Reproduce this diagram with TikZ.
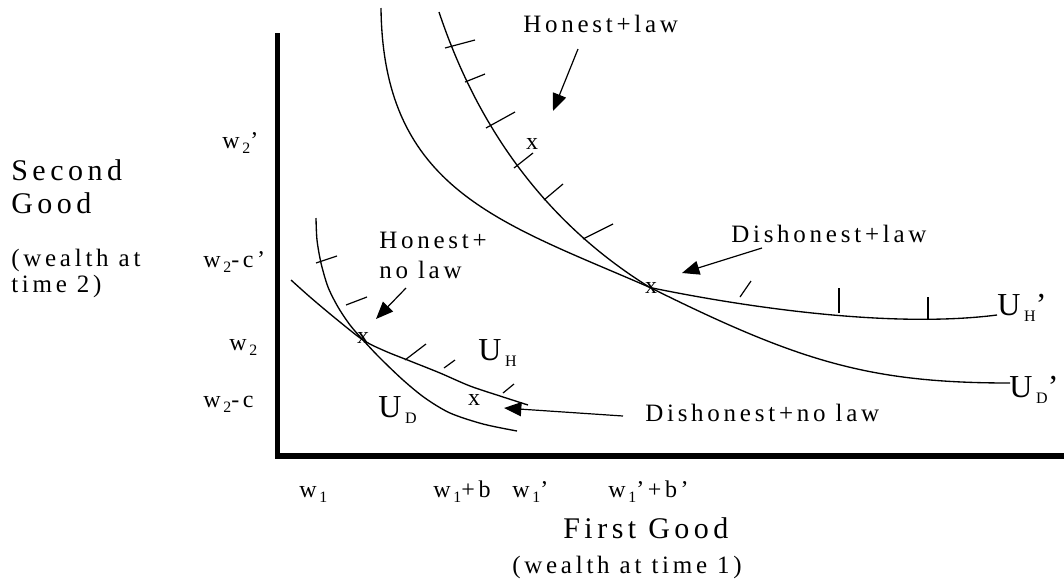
\documentclass[tikz,border=0pt]{standalone}
\usepackage{fontspec}
\setmainfont{Liberation Serif}
\newfontfamily\lsp{Liberation Serif}[LetterSpace=15]
\usetikzlibrary{arrows.meta}
\newcommand\sbs[1]{\hspace{0.12em}\raisebox{-0.22em}{\scalebox{0.66}{#1}}}
\newcommand\usb[1]{\hspace{0.12em}\raisebox{-0.2em}{\scalebox{0.5}{#1}}}
\begin{document}
\begin{tikzpicture}[x=0.75pt,y=-0.75pt,
  curve/.style={line width=1pt},
  axisline/.style={line width=4.2pt},
  hatch/.style={line width=0.9pt},
  pointer/.style={line width=0.9pt,-{Triangle[length=13pt,width=10.5pt]}},
  lbl/.style={anchor=base west,inner sep=0pt,font=\lsp\fontsize{18.75}{20}\selectfont},
  ttl/.style={anchor=base west,inner sep=0pt,font=\lsp\fontsize{22.5}{24}\selectfont},
  tick/.style={anchor=base west,inner sep=0pt,font=\lsp\fontsize{18}{20}\selectfont},
  ulab/.style={anchor=base west,inner sep=0pt,font=\lsp\fontsize{24}{26}\selectfont},
  xm/.style={inner sep=0pt,font=\fontsize{18}{20}\selectfont}]
\useasboundingbox (0,0) rectangle (1064,583);

% axes
\draw[axisline] (277.5,33) -- (277.5,456) -- (1064,456);

% crossing points of the curves
\coordinate (cu) at (650,287.5);
\coordinate (cl) at (363,340);

% upper curves: U_H' and U_D'
\draw[curve] (439,12) .. controls (485,150) and (565,235) .. (cu)
  .. controls (720,302) and (880,330) .. (997,315);
\draw[curve] (381,8) .. controls (383,190) and (500,222) .. (cu)
  .. controls (800,362) and (870,383) .. (1010,383);

% lower curves: U_D and U_H
\draw[curve] plot[smooth] coordinates {(316,218) (317,240) (321,263) (328,287) (338,307) (350,325) (363,340) (380,358) (403,380) (425,398) (450,413) (483,424) (517,431)};
\draw[curve] plot[smooth] coordinates {(291,280) (310,297) (335,318) (363,340) (385,351) (410,361) (440,373) (470,386) (500,396) (528,405)};

% hatches
\foreach \a/\b/\c/\d in {445/48/475/40, 465/82/485/74, 486/128/515/112, 514/168/533/153, 544/200/563/184, 583/239/613/224, 740/297/751/281, 839/313/839/288, 928/320/928/297, 316/263/337/256, 346/305/367/297, 405/360/426/344, 444/368/455/360, 503/393/514/384}
  \draw[hatch] (\a,\b) -- (\c,\d);

% point marks
\node[xm] (x1) at (532,144) {x};
\node[xm] (x2) at (651,288) {x};
\node[xm] (x3) at (363,338) {x};
\node[xm] (x4) at (474,400) {x};

% labels
\node[lbl] (hl) at (523,32) {Honest+law};
\node[lbl] (dl) at (731,242) {Dishonest+law};
\node[lbl] (hn) at (379,248) {Honest+};
\node[lbl] (hn2) at (379,278) {no law};
\node[lbl] (dn) at (645,421) {Dishonest+no law};

% pointers
\coordinate (hlA) at (578,49);  \coordinate (hlB) at (553,111);
\coordinate (dlA) at (762,248); \coordinate (dlB) at (682,273);
\coordinate (hnA) at (406,288); \coordinate (hnB) at (376,319);
\coordinate (dnA) at (623,416); \coordinate (dnB) at (504,408);
\draw[pointer] (hlA) -- (hlB);
\draw[pointer] (dlA) -- (dlB);
\draw[pointer] (hnA) -- (hnB);
\draw[pointer] (dnA) -- (dnB);

% curve labels
\node[ulab] (uhp) at (997,315) {U\usb{H}’};
\node[ulab] (udp) at (1009,397) {U\usb{D}’};
\node[ulab] (uh) at (478,360) {U\usb{H}};
\node[ulab] (ud) at (378,417) {U\usb{D}};

% axis titles
\node[ttl] (sg1) at (11,180) {Second};
\node[ttl] (sg2) at (11,213) {Good};
\node[lbl] (sg3) at (11,266) {(wealth at};
\node[lbl] (sg4) at (11,292) {time 2)};
\node[ttl] (fg1) at (563,538) {First Good};
\node[lbl] (fg2) at (512,573) {(wealth at time 1)};

% y ticks
\node[tick] (t1) at (222,148) {w\sbs{2}’};
\node[tick] (t2) at (203,267) {w\sbs{2}-c’};
\node[tick] (t3) at (229,350) {w\sbs{2}};
\node[tick] (t4) at (203,407) {w\sbs{2}-c};

% x ticks
\node[tick] (s1) at (299,497) {w\sbs{1}};
\node[tick] (s2) at (433,497) {w\sbs{1}+b};
\node[tick] (s3) at (512,497) {w\sbs{1}’};
\node[tick] (s4) at (608,497) {w\sbs{1}’+b’};
\end{tikzpicture}
\end{document}
